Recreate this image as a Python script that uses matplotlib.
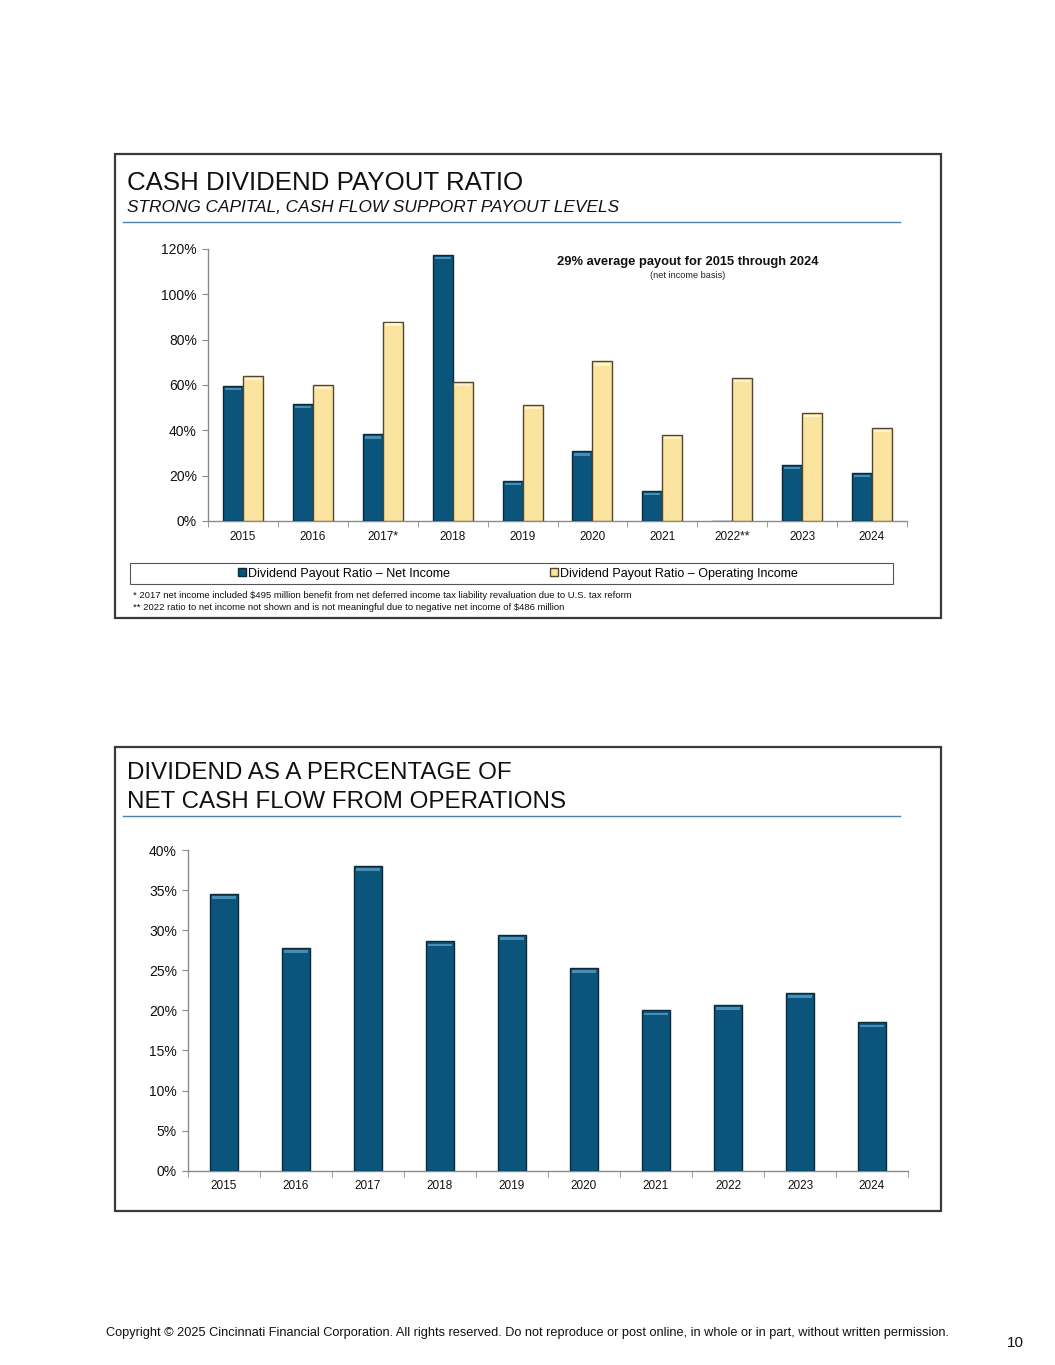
import matplotlib
matplotlib.use("Agg")
import matplotlib.pyplot as plt
import numpy as np
from matplotlib.patches import Rectangle, Patch
from matplotlib.lines import Line2D
from matplotlib.ticker import FixedLocator, PercentFormatter

plt.rcParams['font.family'] = ['Liberation Sans', 'DejaVu Sans']

# ---------------- data ----------------
years_top = ["2015", "2016", "2017*", "2018", "2019", "2020", "2021", "2022**", "2023", "2024"]
payout_net_income = [59.5, 51.8, 38.2, 117.2, 17.8, 30.7, 13.4, 0.0, 24.6, 21.3]
payout_operating_income = [64.1, 59.9, 88.0, 61.2, 51.3, 70.4, 37.9, 63.2, 47.7, 41.0]

years_bottom = ["2015", "2016", "2017", "2018", "2019", "2020", "2021", "2022", "2023", "2024"]
dividend_pct_cash_flow = [34.5, 27.8, 38.0, 28.6, 29.4, 25.3, 20.0, 20.7, 22.2, 18.5]

top_yticks = [0, 20, 40, 60, 80, 100, 120]
bottom_yticks = [0, 5, 10, 15, 20, 25, 30, 35, 40]

NAVY = "#0b557c"
NAVY_EDGE = "#0a2a3a"
NAVY_HI = "#4a8db2"
BEIGE = "#fbe3a0"
BEIGE_EDGE = "#54462c"
BEIGE_HI = "#fff3cf"
AXIS_GRAY = "#8a8a8a"

W, H = 1055, 1365
fig = plt.figure(figsize=(W / 100, H / 100), dpi=100)
fig.patch.set_facecolor("white")


def fx(x):
    return x / W


def fy(y):
    return 1 - y / H


# panel boxes
for (x0, y0, x1, y1) in [(115, 154, 941, 618), (115, 747, 941, 1211)]:
    fig.patches.append(Rectangle((fx(x0), fy(y1)), fx(x1) - fx(x0), fy(y0) - fy(y1),
                                 transform=fig.transFigure, fill=False,
                                 edgecolor="#3a3a3a", linewidth=1.6, zorder=0))

# separator lines
for yline in [222, 816]:
    fig.add_artist(Line2D([fx(123), fx(900)], [fy(yline), fy(yline)],
                          transform=fig.transFigure, color="#4a82a8", linewidth=1.0))

# titles
fig.text(fx(127), fy(183), "CASH DIVIDEND PAYOUT RATIO", fontsize=18.6, va="center", ha="left", color="#111111")
fig.text(fx(127), fy(208), "STRONG CAPITAL, CASH FLOW SUPPORT PAYOUT LEVELS", fontsize=12.4,
         style="italic", va="center", ha="left", color="#111111")
fig.text(fx(127), fy(773), "DIVIDEND AS A PERCENTAGE OF", fontsize=17.4, va="center", ha="left", color="#111111")
fig.text(fx(127), fy(802), "NET CASH FLOW FROM OPERATIONS", fontsize=17.4, va="center", ha="left", color="#111111")


def style_axes(ax, n):
    for s in ["top", "right"]:
        ax.spines[s].set_visible(False)
    for s in ["left", "bottom"]:
        ax.spines[s].set_color(AXIS_GRAY)
        ax.spines[s].set_linewidth(1.0)
    ax.set_xlim(-0.5, n - 0.5)
    ax.xaxis.set_minor_locator(FixedLocator(np.arange(-0.5, n, 1.0)))
    ax.tick_params(axis="x", which="major", length=0, labelsize=8.5, pad=7, colors="#111111")
    ax.tick_params(axis="x", which="minor", length=4, color=AXIS_GRAY, direction="out")
    ax.tick_params(axis="y", which="major", length=4, color=AXIS_GRAY, labelsize=10,
                   direction="out", pad=4, labelcolor="#111111")


def bevel_bars(ax, bars, hi_color):
    for b in bars:
        h = b.get_height()
        if h <= 0:
            continue
        x = b.get_x()
        w = b.get_width()
        ylo, yhi = ax.get_ylim()
        strip = (yhi - ylo) * 0.008
        ax.add_patch(Rectangle((x + w * 0.1, h - strip * 1.9), w * 0.8, strip,
                               facecolor=hi_color, edgecolor="none", zorder=4))


# ---------------- top chart ----------------
ax1 = fig.add_axes([fx(208), fy(521), fx(907) - fx(208), fy(249) - fy(521)])
x = np.arange(len(years_top))
bw = 0.286
ax1.set_ylim(0, 120)
b1 = ax1.bar(x - bw / 2, payout_net_income, bw, color=NAVY, edgecolor=NAVY_EDGE, linewidth=1.0, zorder=3,
             label="Dividend Payout Ratio \u2013 Net Income")
b2 = ax1.bar(x + bw / 2, payout_operating_income, bw, color=BEIGE, edgecolor=BEIGE_EDGE, linewidth=1.0, zorder=3,
             label="Dividend Payout Ratio \u2013 Operating Income")
bevel_bars(ax1, b1, NAVY_HI)
bevel_bars(ax1, b2, BEIGE_HI)
ax1.set_xticks(x)
ax1.set_xticklabels(years_top)
ax1.set_yticks(top_yticks)
ax1.yaxis.set_major_formatter(PercentFormatter(decimals=0))
style_axes(ax1, len(years_top))

fig.text(fx(688), fy(262), "29% average payout for 2015 through 2024", fontsize=9.3, fontweight="bold",
         ha="center", va="center", color="#111111")
fig.text(fx(688), fy(275), "(net income basis)", fontsize=6.6, ha="center", va="center", color="#222222")

# legend frame
fig.patches.append(Rectangle((fx(130), fy(584)), fx(893) - fx(130), fy(563) - fy(584),
                             transform=fig.transFigure, fill=False, edgecolor="#555555",
                             linewidth=0.8, zorder=1))
leg_items = [(Patch(facecolor=NAVY, edgecolor=NAVY_EDGE), "Dividend Payout Ratio \u2013 Net Income", 238),
             (Patch(facecolor=BEIGE, edgecolor=BEIGE_EDGE), "Dividend Payout Ratio \u2013 Operating Income", 550)]
for handle, lab, lx in leg_items:
    lg = fig.legend(handles=[handle], labels=[lab], loc="center left",
                    bbox_to_anchor=(fx(lx), fy(573.5)), bbox_transform=fig.transFigure,
                    frameon=False, fontsize=9, handlelength=0.6, handleheight=0.6,
                    handletextpad=0.2, borderpad=0.0, borderaxespad=0)

fig.text(fx(133), fy(596), "* 2017 net income included $495 million benefit from net deferred income tax liability "
         "revaluation due to U.S. tax reform", fontsize=6.8, ha="left", va="center", color="#111111")
fig.text(fx(133), fy(608), "** 2022 ratio to net income not shown and is not meaningful due to negative net income "
         "of $486 million", fontsize=6.8, ha="left", va="center", color="#111111")

# ---------------- bottom chart ----------------
ax2 = fig.add_axes([fx(188), fy(1170.7), fx(908) - fx(188), fy(850) - fy(1170.7)])
x2 = np.arange(len(years_bottom))
ax2.set_ylim(0, 40)
b3 = ax2.bar(x2, dividend_pct_cash_flow, 0.4, color=NAVY, edgecolor=NAVY_EDGE, linewidth=1.0, zorder=3)
bevel_bars(ax2, b3, NAVY_HI)
ax2.set_xticks(x2)
ax2.set_xticklabels(years_bottom)
ax2.set_yticks(bottom_yticks)
ax2.yaxis.set_major_formatter(PercentFormatter(decimals=0))
style_axes(ax2, len(years_bottom))

# footer
fig.text(fx(527), fy(1333), "Copyright \u00a9 2025 Cincinnati Financial Corporation. All rights reserved. "
         "Do not reproduce or post online, in whole or in part, without written permission.",
         fontsize=9.2, ha="center", va="center", color="#111111")
fig.text(fx(1024), fy(1343), "10", fontsize=11, ha="right", va="center", color="#111111")

fig.savefig("out.png", dpi=100)
